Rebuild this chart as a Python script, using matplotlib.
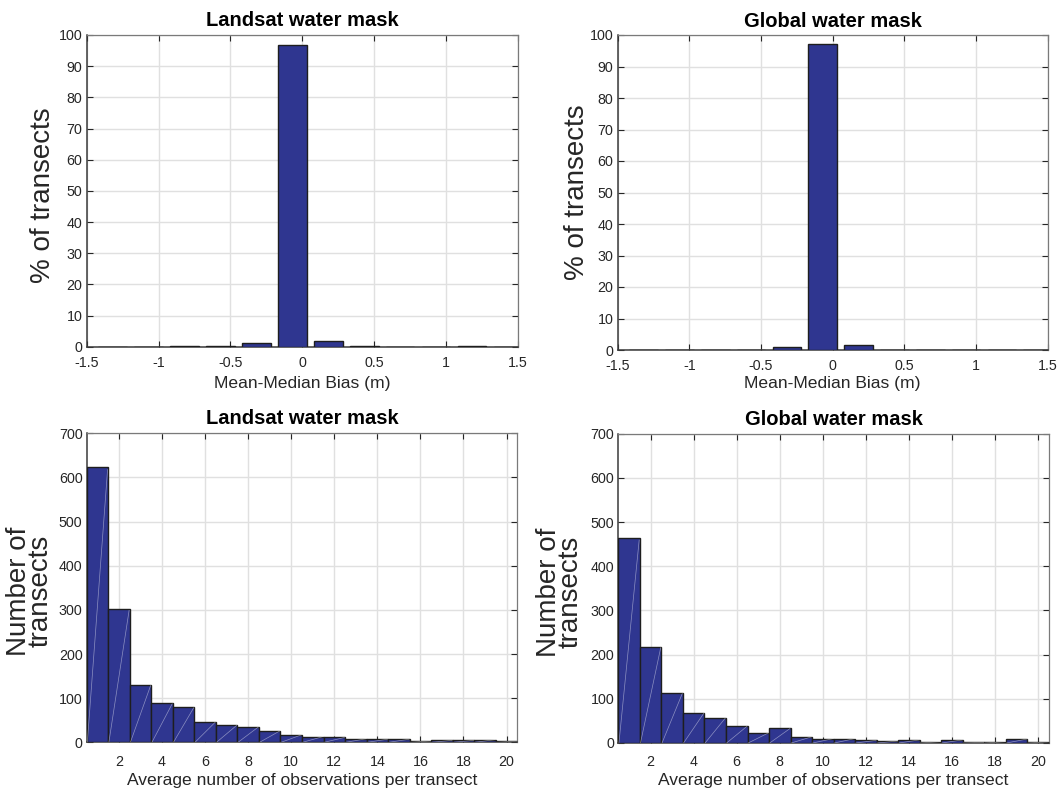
import matplotlib
matplotlib.use("Agg")
import matplotlib.pyplot as plt
import numpy as np

plt.rcParams['font.family'] = ['Liberation Sans', 'DejaVu Sans']
plt.rcParams['axes.unicode_minus'] = False

W, H = 1058, 791

# ---- data ----
bias_centers = [-1.32, -1.07, -0.82, -0.57, -0.32, -0.07, 0.18, 0.43, 0.68, 0.93, 1.18, 1.43]
bias_landsat = [0.05, 0.05, 0.1, 0.2, 1.1, 96.9, 1.85, 0.2, 0.05, 0.05, 0.2, 0.05]
bias_global = [0.05, 0.05, 0.1, 0.1, 0.85, 97.0, 1.6, 0.1, 0.05, 0.05, 0.1, 0.05]
bias_ticks = [-1.5, -1, -0.5, 0, 0.5, 1, 1.5]
bias_ticklabels = ['-1.5', '-1', '-0.5', '0', '0.5', '1', '1.5']

obs_bins = list(range(1, 21))
obs_landsat = [624, 302, 130, 88, 79, 46, 39, 35, 26, 17, 13, 11, 8, 7, 7, 3, 4.5, 4.5, 6, 2.5]
obs_global = [464, 218, 113, 68, 57, 38, 23, 33, 14, 10, 10, 6, 4.5, 7, 3, 7, 1.5, 3, 9, 2.5]
obs_ticks = list(range(2, 21, 2))

titles = ['Landsat water mask', 'Global water mask']

BAR = '#2F3690'
EDGE = '#1E1E1E'


def px_axes(l, t, r, b):
    return [l / W, 1 - b / H, (r - l) / W, (b - t) / H]


def style(ax):
    ax.set_axisbelow(True)
    ax.grid(True, color='#E0E0E0', linewidth=1.0)
    ax.tick_params(direction='in', length=4, width=0.8, top=True, right=True,
                   labelsize=10.3, colors='#262626')
    ax.tick_params(axis='x', pad=6.5)
    ax.tick_params(axis='y', pad=3)
    for s in ['left', 'bottom']:
        ax.spines[s].set_color('#3A3A3A')
        ax.spines[s].set_linewidth(1.1)
    for s in ['top', 'right']:
        ax.spines[s].set_color('#7A7A7A')
        ax.spines[s].set_linewidth(0.9)


fig = plt.figure(figsize=(W / 100, H / 100), dpi=100)

axes_px = [
    (86.7, 35, 518, 346.7),
    (617.7, 35, 1047.7, 350),
    (86.7, 433.3, 517.3, 742.3),
    (618.3, 433.7, 1049, 743),
]
axs = [fig.add_axes(px_axes(*p)) for p in axes_px]

# top row
for ax, vals in zip(axs[:2], [bias_landsat, bias_global]):
    style(ax)
    ax.bar(bias_centers, vals, width=0.2, color=BAR, edgecolor=EDGE, linewidth=1.0, zorder=3)
    ax.set_xlim(-1.5, 1.5)
    ax.set_ylim(0, 100)
    ax.set_xticks(bias_ticks)
    ax.set_xticklabels(bias_ticklabels)
    ax.set_yticks(range(0, 101, 10))

# bottom row
for ax, vals in zip(axs[2:], [obs_landsat, obs_global]):
    style(ax)
    ax.tick_params(axis='x', pad=9)
    ax.bar(obs_bins, vals, width=1.0, color=BAR, edgecolor=EDGE, linewidth=1.0, zorder=3)
    for x, v in zip(obs_bins, vals):
        ax.plot([x - 0.47, x + 0.47], [0, v * 0.99], color='white', linewidth=0.5,
                alpha=0.45, zorder=4)
    ax.set_xlim(0.5, 20.5)
    ax.set_ylim(0, 700)
    ax.set_xticks(obs_ticks)
    ax.set_yticks(range(0, 701, 100))

# titles
title_pos = [(302, 21), (832.7, 21.5), (302, 419), (833.6, 419.5)]
for i, (x, y) in enumerate(title_pos):
    fig.text(x / W, 1 - y / H, titles[i % 2], ha='center', va='center',
             fontsize=14.5, fontweight='bold', color='black')

# x labels
xl = [(302, 384, 'Mean-Median Bias (m)'), (832.7, 384, 'Mean-Median Bias (m)'),
      (302, 780, 'Average number of observations per transect'),
      (833.6, 780, 'Average number of observations per transect')]
for x, y, s in xl:
    fig.text(x / W, 1 - y / H, s, ha='center', va='center', fontsize=12.6, color='#262626')

# y labels
yl = [(43, 195, '% of transects', 1.0), (577, 192, '% of transects', 1.0),
      (30, 591, 'Number of\ntransects', 0.78), (560, 592, 'Number of\ntransects', 0.78)]
for x, y, s, ls in yl:
    fig.text(x / W, 1 - y / H, s, ha='center', va='center', rotation=90,
             fontsize=20, color='#262626', multialignment='center', linespacing=ls)

fig.savefig('out.png', dpi=100)
